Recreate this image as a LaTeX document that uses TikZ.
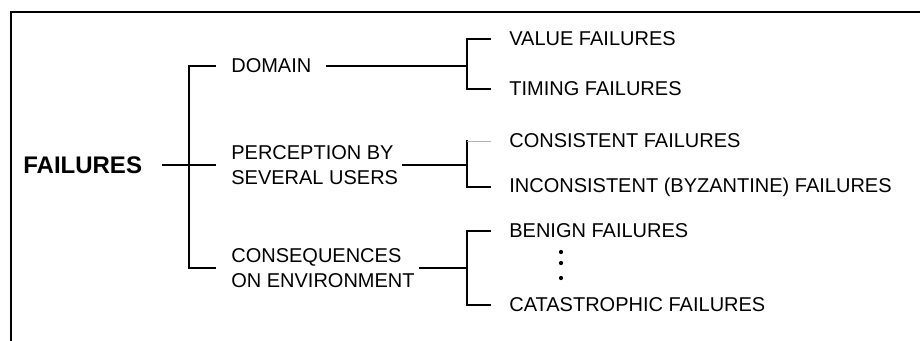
\documentclass[tikz,border=0pt]{standalone}
\usepackage{fontspec}
\setmainfont{Liberation Sans}

\begin{document}
\begin{tikzpicture}[x=0.75pt,y=-0.75pt,line width=2pt]
        %
        % `toptext' is the root word, `modetext' the three viewpoints,
        % `leaftext' the failure modes, `tick' and `leaftick' the bracket arms.
        \tikzstyle{toptext} = [anchor=west,inner sep=0pt,font=\fontsize{18}{22}\selectfont\bfseries]
        \tikzstyle{modetext} = [anchor=west,inner sep=0pt,align=left,font=\fontsize{15}{18.75}\selectfont]
        \tikzstyle{leaftext} = [anchor=west,inner sep=0pt,font=\fontsize{15}{18.75}\selectfont]
        \tikzstyle{tick} = [shorten >=10.5pt]
        \tikzstyle{leaftick} = [shorten >=12.75pt]
        \tikzstyle{dot} = [fill,shape=circle,minimum size=3.2pt,inner sep=0pt]
        %
        % Frame
        \useasboundingbox (0,0) rectangle (920,340);
        \draw (11,341) -- (11,12) -- (921,12);
        %
        % Root
        \node[toptext] (failures) at (22,165) {FAILURES};
        %
        % Column 2
        \node[modetext] (domain) at (230,66) {DOMAIN};
        \node[modetext] (perception) at (230,165) {PERCEPTION BY\\SEVERAL USERS};
        \node[modetext] (consequences) at (230,268) {CONSEQUENCES\\ON ENVIRONMENT};
        %
        % Column 3
        \node[leaftext] (value) at (508,39) {VALUE FAILURES};
        \node[leaftext] (timing) at (508,89) {TIMING FAILURES};
        \node[leaftext] (consistent) at (508,141) {CONSISTENT FAILURES};
        \node[leaftext] (inconsistent) at (508,187) {INCONSISTENT (BYZANTINE) FAILURES};
        \node[leaftext] (benign) at (508,231) {BENIGN FAILURES};
        \node[leaftext] (catastrophic) at (508,305) {CATASTROPHIC FAILURES};
        \node[dot] (dot1) at (561,252) {};
        \node[dot] (dot2) at (561,263) {};
        \node[dot] (dot3) at (561,278) {};
        %
        % Bracket joints
        \coordinate (j1) at (189,165);
        \coordinate (j2) at (467,66);
        \coordinate (j3) at (467,165);
        \coordinate (j4) at (467,268);
        %
        % Bracket 1
        \draw[shorten <=14pt,tick] (failures.east) -- (perception.west);
        \draw[tick] (j1) |- (domain.west);
        \draw[tick] (j1) |- (consequences.west);
        %
        % Bracket 2
        \draw[shorten <=10pt] (domain.east) -- (j2);
        \draw[line cap=rect] (j2) -- (j2 |- value.west);
        \draw[leaftick,line width=1pt] (j2 |- value.west) -- (value.west);
        \draw[leaftick] (j2) |- (timing.west);
        %
        % Bracket 3
        \draw[shorten <=2pt] (perception.east) -- (j3);
        \draw[line cap=rect] (j3) -- (j3 |- consistent.west);
        \draw[leaftick,line width=0.5pt,gray!60] (j3 |- consistent.west) -- (consistent.west);
        \draw[leaftick] (j3) |- (inconsistent.west);
        %
        % Bracket 4
        \draw[shorten <=2.5pt] (consequences.east) -- (j4);
        \draw[leaftick] (j4) |- (benign.west);
        \draw[leaftick] (j4) |- (catastrophic.west);
        %
\end{tikzpicture}
\end{document}
